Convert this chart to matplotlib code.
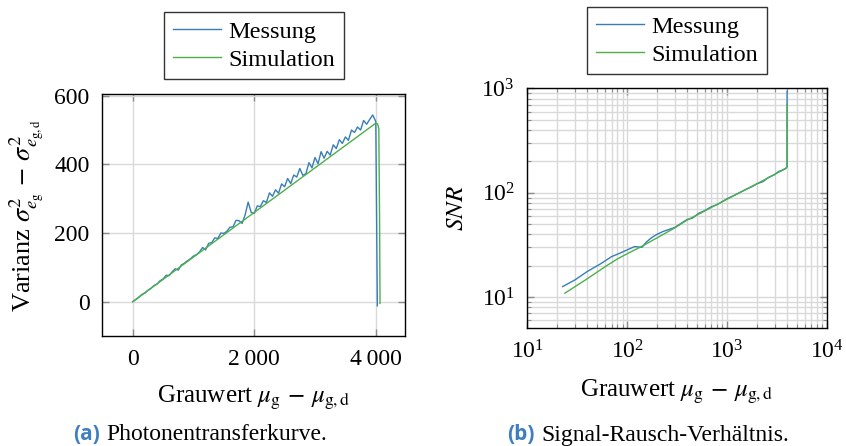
import matplotlib
matplotlib.use("Agg")
import matplotlib.pyplot as plt
from matplotlib.ticker import LogLocator, NullFormatter

plt.rcParams['font.family'] = ['Liberation Serif', 'DejaVu Serif']
plt.rcParams['mathtext.fontset'] = 'stix'

BLUE = '#377eb8'
GREEN = '#4daf4a'
GRID = '#d9d9d9'
TICK = '#8c8c8c'
CAPTION = '#3f7fbf'

# --- (a) Photonentransferkurve ---
ptc_x = [0, 50, 100, 150, 200, 250, 300, 350, 400, 450, 500, 550, 600, 650,
         700, 750, 800, 850, 900, 950, 1000, 1050, 1100, 1150, 1200, 1250,
         1300, 1350, 1400, 1450, 1500, 1550, 1600, 1650, 1700, 1750, 1800,
         1850, 1900, 1950, 2000, 2050, 2100, 2150, 2200, 2250, 2300, 2350,
         2400, 2450, 2500, 2550, 2600, 2650, 2700, 2750, 2800, 2850, 2900,
         2950, 3000, 3050, 3100, 3150, 3200, 3250, 3300, 3350, 3400, 3450,
         3500, 3550, 3600, 3650, 3700, 3750, 3800, 3850, 3900, 3950, 4000,
         4026]
ptc_messung = [0, 6, 13, 21, 25, 33, 39, 47, 51, 61, 66, 77, 76, 87,
               96, 92, 107, 112, 119, 125, 133, 137, 145, 158, 151, 170,
               172, 186, 184, 200, 199, 205, 217, 218, 237, 236, 228,
               253, 290, 260, 257, 279, 277, 294, 289, 317, 307, 326,
               316, 343, 335, 359, 344, 369, 363, 388, 368, 373, 405,
               390, 420, 402, 437, 418, 438, 427, 457, 446, 472, 461,
               480, 470, 500, 493, 509, 500, 528, 517, 531, 544, 525,
               -12]
ptc_sim_x = [0, 1000, 2000, 3000, 4000, 4030, 4050, 4062, 4070]
ptc_sim = [0, 130, 260, 390, 520, 518, 505, 250, -5]

# --- (b) Signal-Rausch-Verhaeltnis ---
snr_messung_x = [22.6, 30, 40, 55, 69.8, 85, 100, 119, 141, 155, 175, 200, 229,
                 300, 337, 400, 450, 520, 600, 700, 800, 1000, 1200, 1500,
                 1800, 2000, 2300, 2600, 3000, 3300, 3600, 3900, 4005, 4009]
snr_messung = [12.6, 14.6, 17.6, 21.0, 24.4, 26.4, 28.3, 30.5, 30.0, 33.5,
               37.0, 40.0, 42.5, 46.5, 50.0, 55.5, 57.0, 63.5, 67.5, 73.5,
               77.0, 87.5, 95.0, 106, 115, 122, 128, 140, 149, 160, 165, 172,
               178, 942]
snr_sim_x = [23.8, 40, 60, 80, 100, 140, 200, 300, 400, 550, 700, 1000, 1500,
             2000, 3000, 3900, 4010, 4016, 4018]
snr_sim = [10.9, 15.0, 19.5, 23.2, 26.0, 30.6, 37.0, 46.0, 54.8, 64.0, 72.5,
           86.7, 106, 122, 150, 171, 178, 300, 702]

fig = plt.figure(figsize=(8.46, 4.46), dpi=100)
ax1 = fig.add_axes([0.1206, 0.2466, 0.3582, 0.5426])
ax2 = fig.add_axes([0.6233, 0.2646, 0.3539, 0.5370])

fs = 17
lfs = 18

# left panel
ax1.plot(ptc_x, ptc_messung, color=BLUE, lw=1.0, label='Messung')
ax1.plot(ptc_sim_x, ptc_sim, color=GREEN, lw=1.0, label='Simulation')
ax1.set_xlim(-505, 4482)
ax1.set_ylim(-100, 605)
ax1.set_xticks([0, 2000, 4000])
ax1.set_xticklabels(['0', '2\u2009000', '4\u2009000'])
ax1.set_yticks([0, 200, 400, 600])
ax1.grid(True, color=GRID, lw=1.0)
ax1.set_axisbelow(True)
ax1.set_xlabel(r'Grauwert $\mu_\mathrm{g}\,-\,\mu_\mathrm{g,d}$', fontsize=lfs, labelpad=10)
ax1.set_ylabel(r'Varianz $\sigma^2_{e_\mathrm{g}}\,-\,\sigma^2_{e_\mathrm{g,d}}$', fontsize=19,
               labelpad=6)
ax1.legend(loc='center', bbox_to_anchor=(0.3002, 0.8975), bbox_transform=fig.transFigure,
           fontsize=17.5, frameon=True, fancybox=False, edgecolor='#333333',
           framealpha=1, handlelength=2.0, handletextpad=0.3, labelspacing=0.25,
           borderpad=0.35)

# right panel
ax2.loglog(snr_messung_x, snr_messung, color=BLUE, lw=1.0, label='Messung')
ax2.loglog(snr_sim_x, snr_sim, color=GREEN, lw=1.0, label='Simulation')
ax2.set_xlim(10, 1e4)
ax2.set_ylim(5.05, 1000)
ax2.xaxis.set_major_locator(LogLocator(base=10, numticks=10))
ax2.yaxis.set_major_locator(LogLocator(base=10, numticks=10))
ax2.xaxis.set_minor_locator(LogLocator(base=10, subs=range(2, 10), numticks=20))
ax2.yaxis.set_minor_locator(LogLocator(base=10, subs=range(2, 10), numticks=20))
ax2.xaxis.set_minor_formatter(NullFormatter())
ax2.yaxis.set_minor_formatter(NullFormatter())
ax2.grid(True, which='both', color=GRID, lw=1.0)
ax2.set_axisbelow(True)
ax2.set_xlabel(r'Grauwert $\mu_\mathrm{g}\,-\,\mu_\mathrm{g,d}$', fontsize=lfs, labelpad=10)
ax2.set_ylabel(r'$SNR$', fontsize=lfs, labelpad=10)
ax2.legend(loc='center', bbox_to_anchor=(0.8002, 0.9083), bbox_transform=fig.transFigure,
           fontsize=17.5, frameon=True, fancybox=False, edgecolor='#333333',
           framealpha=1, handlelength=2.0, handletextpad=0.3, labelspacing=0.25,
           borderpad=0.35)

for ax in (ax1, ax2):
    for s in ax.spines.values():
        s.set_color('black')
        s.set_linewidth(1.0)
    ax.tick_params(which='major', direction='in', top=True, right=True,
                   length=5, width=1.0, color=TICK, labelsize=fs, pad=9)
    ax.tick_params(which='minor', direction='in', top=True, right=True,
                   length=3, width=0.8, color=TICK)

# captions
fig.text(99.5 / 846, 1 - 435 / 446, '(a)', ha='right', va='center', fontsize=15,
         fontweight='bold', color=CAPTION, family=['Open Sans', 'DejaVu Sans'])
fig.text(106 / 846, 1 - 435 / 446, 'Photonentransferkurve.', ha='left', va='center',
         fontsize=17)
fig.text(535 / 846, 1 - 435 / 446, '(b)', ha='right', va='center', fontsize=15,
         fontweight='bold', color=CAPTION, family=['Open Sans', 'DejaVu Sans'])
fig.text(541.5 / 846, 1 - 435 / 446, 'Signal-Rausch-Verhältnis.', ha='left', va='center',
         fontsize=17)

fig.savefig('out.png', dpi=100)
